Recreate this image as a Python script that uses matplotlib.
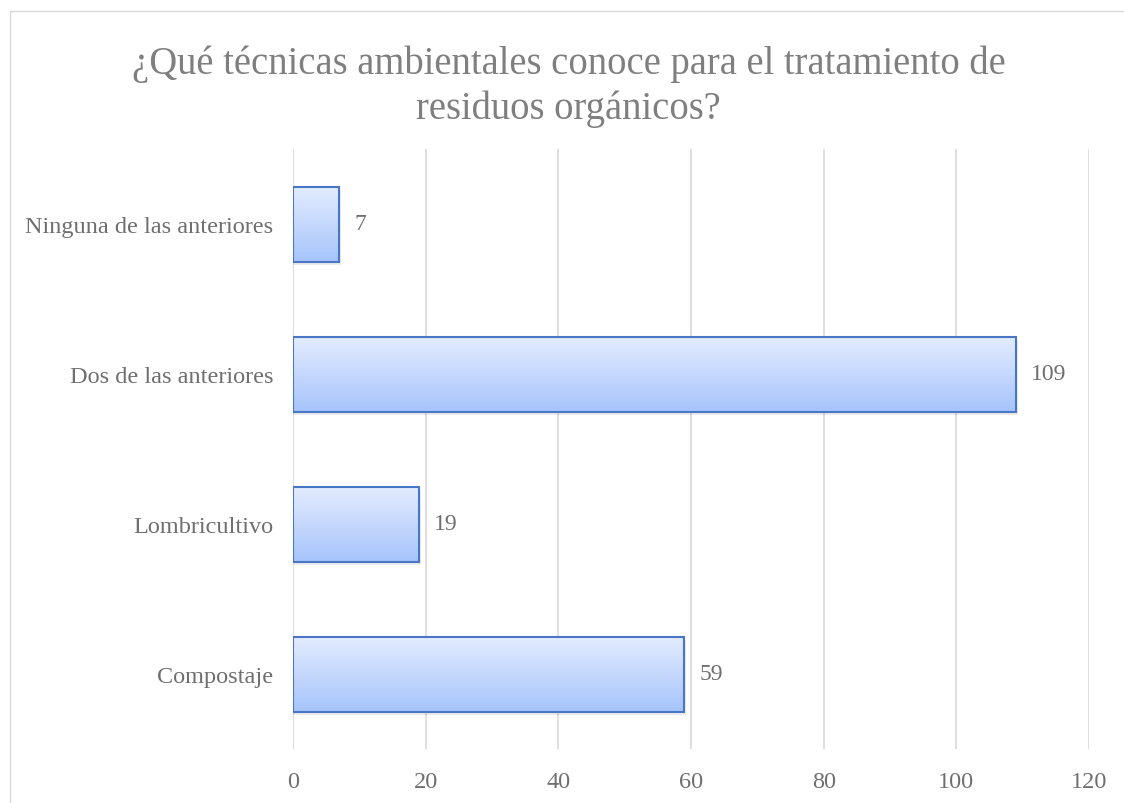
import numpy as np
import matplotlib.pyplot as plt
from matplotlib.patches import Rectangle

categories = ['Compostaje', 'Lombricultivo', 'Dos de las anteriores', 'Ninguna de las anteriores']
values = [59, 19, 109, 7]
xticks = [0, 20, 40, 60, 80, 100, 120]
title = '¿Qué técnicas ambientales conoce para el tratamiento de\nresiduos orgánicos?'

plt.rcParams['font.family'] = ['Liberation Serif', 'DejaVu Serif']
gray = '#7f7f7f'
label_gray = '#6f6f6f'

fig = plt.figure(figsize=(11.24, 8.04), dpi=100)
fig.patches.append(Rectangle((10 / 1124, -0.1), 1.2, 1 - 12 / 804 + 0.1,
                             transform=fig.transFigure, fill=False,
                             edgecolor='#d9d9d9', linewidth=1))
ax = fig.add_axes([293 / 1124, 54 / 804, 796 / 1124, 600 / 804])

grad = np.linspace(0, 1, 256).reshape(-1, 1)
cmap = plt.matplotlib.colors.LinearSegmentedColormap.from_list('g', ['#a6c4fb', '#e3ecff'])
height = 0.5
for i, v in enumerate(values):
    # slight shadow
    ax.add_patch(Rectangle((0, i - height / 2 - 0.02), v + 0.3, height,
                           facecolor='#000000', alpha=0.08, edgecolor='none', zorder=2))
    im = ax.imshow(grad, extent=[0, v, i - height / 2, i + height / 2], cmap=cmap,
                   aspect='auto', origin='lower', zorder=3)
    r = Rectangle((0, i - height / 2), v, height, facecolor='none',
                  edgecolor='#4a76c6', linewidth=1.5, zorder=4)
    ax.add_patch(r)
    im.set_clip_path(r)
    ax.annotate(str(v), (v, i), xytext=(11, 0), textcoords='offset points',
                va='center', ha='left', fontsize=17, color=label_gray)

ax.set_xlim(0, 120)
ax.set_ylim(-0.5, 3.5)
ax.set_xticks(xticks)
ax.set_yticks(range(len(categories)))
ax.set_yticklabels(categories)
ax.tick_params(length=0, labelsize=17.5, colors=label_gray, pad=14)
ax.tick_params(axis='x', pad=16)
ax.grid(axis='x', color='#d9d9d9', linewidth=1.2, zorder=0)
ax.set_axisbelow(True)
for s in ax.spines.values():
    s.set_visible(False)

fig.text(0.506, 0.892, title, ha='center', va='center', fontsize=27.8,
         color=gray, linespacing=1.28)

fig.savefig('out.png', dpi=100)
